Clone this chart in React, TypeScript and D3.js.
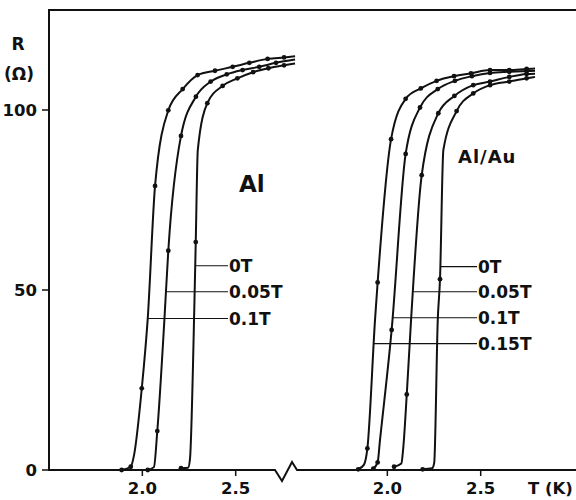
import React from 'react';
import * as d3 from 'd3';

type Pt = [number, number, number]; // [T (K), R (ohm), measured dot 1/0]

// ---- Al panel ----
const alFields = ['0T', '0.05T', '0.1T'];
const al0T: Pt[] = [
  [2.207, 0.5, 1], [2.245, 0.6, 0], [2.255, 3, 0], [2.278, 44.4, 0], [2.286, 63.3, 1],
  [2.297, 88.9, 0], [2.348, 101.9, 1], [2.43, 106.7, 1], [2.509, 108.8, 1], [2.593, 110.5, 1],
  [2.675, 111.6, 1], [2.759, 112.4, 1], [2.818, 112.9, 0],
];
const al005T: Pt[] = [
  [2.029, 0, 1], [2.062, 0.8, 0], [2.08, 10.8, 1], [2.118, 41.7, 0], [2.139, 60.9, 1],
  [2.207, 92.8, 1], [2.287, 103.7, 1], [2.366, 107.9, 1], [2.452, 109.9, 1], [2.537, 111.1, 1],
  [2.626, 112.0, 1], [2.716, 113.1, 1], [2.818, 114.0, 0],
];
const al01T: Pt[] = [
  [1.889, 0, 1], [1.938, 0.9, 1], [1.955, 4, 0], [1.997, 22.7, 1], [2.029, 42.2, 0],
  [2.068, 78.9, 1], [2.139, 99.9, 1], [2.216, 105.8, 1], [2.296, 109.7, 1], [2.389, 110.9, 1],
  [2.484, 112.0, 1], [2.573, 113.1, 1], [2.671, 114.2, 1], [2.759, 114.6, 1], [2.818, 114.9, 0],
];
const alLabelR = [56.75, 49.5, 42.1];

// ---- Al/Au panel ----
const auFields = ['0T', '0.05T', '0.1T', '0.15T'];
const au0T: Pt[] = [
  [2.189, 0.2, 1], [2.24, 0.5, 0], [2.251, 2, 0], [2.27, 41.7, 0], [2.282, 53.0, 1],
  [2.3, 88.9, 0], [2.371, 99.7, 1], [2.46, 104.6, 1], [2.55, 106.9, 1], [2.653, 107.9, 1],
  [2.746, 108.8, 1], [2.791, 109.2, 0],
];
const au005T: Pt[] = [
  [2.036, 0.9, 1], [2.075, 1.8, 0], [2.085, 6, 0], [2.104, 21.0, 1], [2.127, 41.7, 0],
  [2.184, 81.9, 1], [2.273, 99.1, 1], [2.359, 103.9, 1], [2.46, 106.9, 1], [2.55, 107.9, 1],
  [2.653, 109.2, 1], [2.746, 110.0, 1], [2.791, 110.1, 0],
];
const au01T: Pt[] = [
  [1.925, 0.4, 1], [1.948, 2.1, 1], [1.96, 8, 0], [2.023, 38.9, 1], [2.098, 87.8, 1],
  [2.175, 100.7, 1], [2.27, 105.8, 1], [2.362, 108.1, 1], [2.453, 109.4, 1], [2.55, 110.3, 1],
  [2.653, 110.6, 1], [2.746, 110.8, 1], [2.791, 110.9, 0],
];
const au015T: Pt[] = [
  [1.844, 0.2, 1], [1.875, 1.5, 0], [1.893, 6.0, 1], [1.934, 41.7, 0], [1.948, 52.1, 1],
  [2.02, 91.9, 1], [2.098, 103.1, 1], [2.179, 106.0, 1], [2.264, 108.1, 1], [2.357, 109.4, 1],
  [2.448, 110.2, 1], [2.55, 111.1, 1], [2.653, 111.1, 1], [2.746, 111.4, 1], [2.791, 111.5, 0],
];
const auLabelR = [56.5, 49.5, 42.3, 35.1];

const yTicks = [0, 50, 100];
const xTicks = [2.0, 2.5];
const xTickLabels = ['2.0', '2.5'];

const FONT = '"DejaVu Sans", "Liberation Sans", Arial, sans-serif';

function crossT(data: Pt[], r: number): number {
  for (let i = 1; i < data.length; i++) {
    const a = data[i - 1], b = data[i];
    if ((a[1] - r) * (b[1] - r) <= 0 && a[1] !== b[1]) {
      return a[0] + ((r - a[1]) / (b[1] - a[1])) * (b[0] - a[0]);
    }
  }
  return data[0][0];
}

export default function App() {
  const W = 576, H = 500;
  const pxPerK = 186.7;
  const y = d3.scaleLinear().domain([0, 100]).range([470, 110]);
  const xL = d3.scaleLinear().domain([1.5, 3.0]).range([49, 49 + 1.5 * pxPerK]);
  const xR = d3.scaleLinear().domain([1.5, 3.0]).range([294, 294 + 1.5 * pxPerK]);
  const y0 = y(0);

  const panels = [
    { x: xL, series: [al0T, al005T, al01T], fields: alFields, labelR: alLabelR, labelX: 229 },
    { x: xR, series: [au0T, au005T, au01T, au015T], fields: auFields, labelR: auLabelR, labelX: 478 },
  ];

  const brk = { a: 275, b: 297 };
  const zig = `M49,${y0} L${brk.a},${y0} L${brk.a + 7},${y0 + 11} L${brk.a + 17},${y0 - 8} L${brk.b},${y0} L${W},${y0}`;

  return (
    <svg width={W} height={H} style={{ position: 'absolute', left: 0, top: 0, background: '#fff' }}
      fontFamily={FONT} fontWeight="bold">
      <rect x={0} y={0} width={W} height={H} fill="#fff" />
      {/* frame */}
      <line x1={49} y1={10} x2={W} y2={10} stroke="#111" strokeWidth={2} />
      <line x1={49} y1={9} x2={49} y2={y0 + 1} stroke="#111" strokeWidth={2} />
      <path d={zig} fill="none" stroke="#111" strokeWidth={2} strokeLinejoin="miter" />

      {/* y ticks */}
      {yTicks.map(t => (
        <g key={'y' + t}>
          <line x1={42} x2={49} y1={y(t)} y2={y(t)} stroke="#111" strokeWidth={1.5} />
          <text x={37} y={y(t)} dy="0.36em" textAnchor="end" fontSize={16.5} fill="#111">{t}</text>
        </g>
      ))}
      <text x={18} y={50} textAnchor="middle" fontSize={17} fill="#111">R</text>
      <text x={19} y={80} textAnchor="middle" fontSize={17} fill="#111">(Ω)</text>

      {panels.map((p, pi) => {
        const line = d3.line<Pt>().x(d => p.x(d[0])).y(d => y(d[1])).curve(d3.curveMonotoneX);
        return (
          <g key={'p' + pi}>
            {xTicks.map((t, i) => (
              <g key={'x' + t}>
                <line x1={p.x(t)} x2={p.x(t)} y1={y0} y2={y0 + 6} stroke="#111" strokeWidth={1.5} />
                <text x={p.x(t)} y={494} textAnchor="middle" fontSize={16.5} fill="#111">{xTickLabels[i]}</text>
              </g>
            ))}
            {p.series.map((s, si) => (
              <g key={'s' + si}>
                <path d={line(s) || ''} fill="none" stroke="#111" strokeWidth={2} />
                {s.filter(d => d[2] === 1).map((d, di) => (
                  <circle key={di} cx={p.x(d[0])} cy={y(d[1])} r={2.4} fill="#111" />
                ))}
              </g>
            ))}
            {p.fields.map((f, fi) => {
              const r = p.labelR[fi];
              const tx = p.x(crossT(p.series[fi], r));
              return (
                <g key={'l' + fi}>
                  <line x1={tx} x2={p.labelX - 1} y1={y(r)} y2={y(r)} stroke="#111" strokeWidth={1.1} />
                  <text x={p.labelX} y={y(r)} dy="0.36em" fontSize={17} fill="#111">{f}</text>
                </g>
              );
            })}
          </g>
        );
      })}

      <text x={239} y={192} fontSize={23} fill="#111">Al</text>
      <text x={458} y={163} fontSize={18} fill="#111" letterSpacing={1}>Al/Au</text>
      <text x={528} y={494} fontSize={16.5} fill="#111">T (K)</text>
    </svg>
  );
}
